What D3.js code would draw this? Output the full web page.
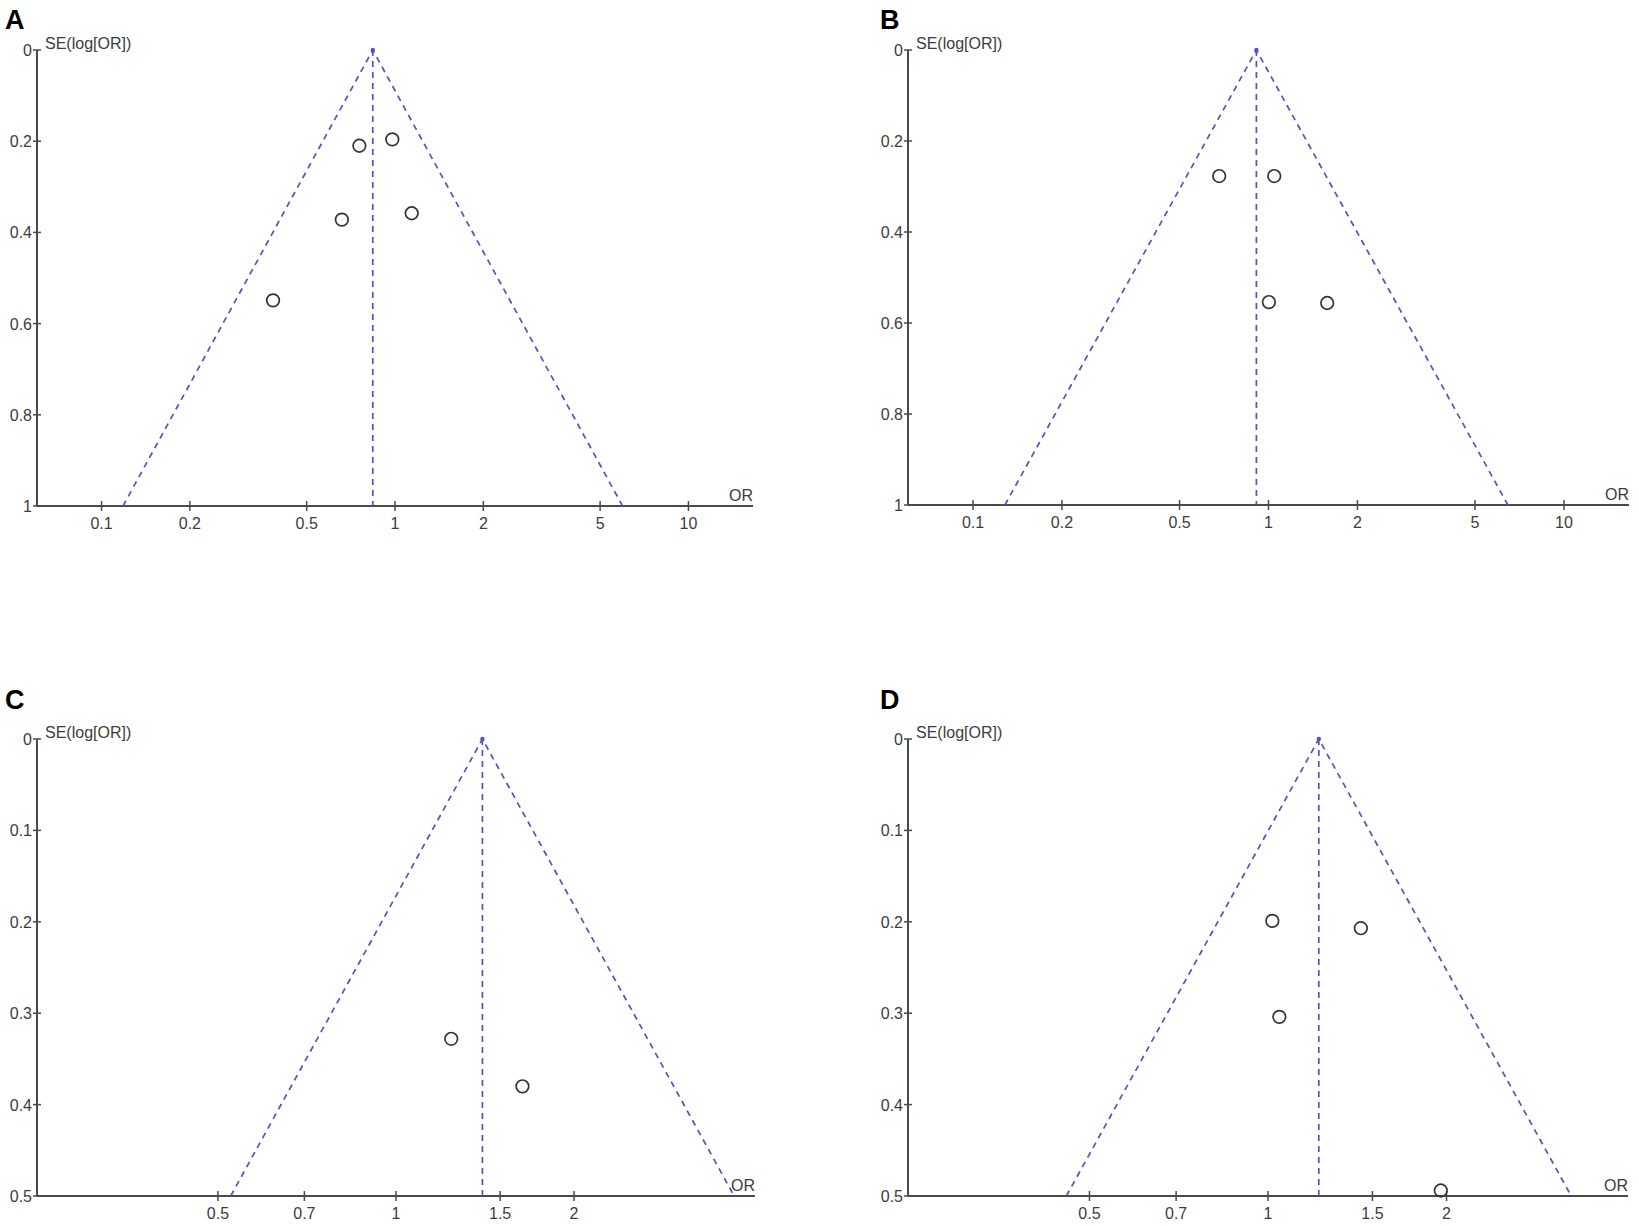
<!DOCTYPE html>
<html>
<head>
<meta charset="utf-8">
<script src="https://cdn.jsdelivr.net/npm/d3@7"></script>
<style>
  body { margin: 0; background: #fff; }
  text { font-family: "Liberation Sans", Arial, sans-serif; }
</style>
</head>
<body>
<div id="chart"></div>
<script>
// panel data
const panelNames = ["A", "B", "C", "D"];
const pooledOR = [0.84, 0.91, 1.40, 1.218];
const seMax = [1, 1, 0.5, 0.5];

const studyOR = [
  [0.756, 0.979, 0.659, 1.14, 0.384],
  [0.681, 1.046, 1.003, 1.58],
  [1.24, 1.636],
  [1.017, 1.434, 1.045, 1.956]
];
const studySE = [
  [0.210, 0.196, 0.372, 0.358, 0.549],
  [0.277, 0.277, 0.554, 0.556],
  [0.328, 0.380],
  [0.199, 0.207, 0.304, 0.494]
];

const xTicksWide = [0.1, 0.2, 0.5, 1, 2, 5, 10];
const xTicksNarrow = [0.5, 0.7, 1, 1.5, 2];
const yTicksWide = [0, 0.2, 0.4, 0.6, 0.8, 1];
const yTicksNarrow = [0, 0.1, 0.2, 0.3, 0.4, 0.5];

const W = 1639, H = 1226;

// layout of the four panels
const boxes = [
  {x0: 37,  x1: 753,  y0: 50,  y1: 506, half: 1.22,  lx: 5,   ly: 29},
  {x0: 908, x1: 1629, y0: 50,  y1: 505, half: 1.22,  lx: 880, ly: 29},
  {x0: 37,  x1: 755,  y0: 739, y1: 1196, half: 0.607, lx: 5,   ly: 709},
  {x0: 908, x1: 1628, y0: 739, y1: 1196, half: 0.607, lx: 880, ly: 709}
];

const svg = d3.select("#chart").append("svg")
  .attr("width", W).attr("height", H);

svg.append("rect").attr("width", W).attr("height", H).attr("fill", "#fff");

const axisCol = "#4a4a4a";
const textCol = "#3c3c3c";
const funnelCol = "#5252c2";

panelNames.forEach((name, i) => {
  const b = boxes[i];
  const g = svg.append("g");

  const x = d3.scaleLog()
    .domain([Math.pow(10, -b.half), Math.pow(10, b.half)])
    .range([b.x0, b.x1]);
  const y = d3.scaleLinear().domain([0, seMax[i]]).range([b.y0, b.y1]);

  const xTicks = i < 2 ? xTicksWide : xTicksNarrow;
  const yTicks = i < 2 ? yTicksWide : yTicksNarrow;

  // panel letter
  g.append("text")
    .attr("x", b.lx).attr("y", b.ly)
    .attr("font-size", 27).attr("font-weight", "bold")
    .attr("fill", "#000")
    .text(name);

  // y axis
  g.append("line")
    .attr("x1", b.x0).attr("x2", b.x0)
    .attr("y1", y(0)).attr("y2", y(seMax[i]))
    .attr("stroke", axisCol).attr("stroke-width", 2);

  g.selectAll(".ytick").data(yTicks).enter()
    .append("line")
    .attr("x1", b.x0 - 4).attr("x2", b.x0 + 4)
    .attr("y1", d => y(d)).attr("y2", d => y(d))
    .attr("stroke", axisCol).attr("stroke-width", 1.5);

  g.selectAll(".ylab").data(yTicks).enter()
    .append("text")
    .attr("x", b.x0 - 5).attr("y", d => y(d) + 6)
    .attr("text-anchor", "end")
    .attr("font-size", 16).attr("fill", textCol)
    .text(d => d3.format("~g")(d));

  g.append("text")
    .attr("x", b.x0 + 8).attr("y", b.y0 - 1)
    .attr("font-size", 16).attr("fill", textCol)
    .text("SE(log[OR])");

  // x axis
  g.append("line")
    .attr("x1", b.x0).attr("x2", b.x1)
    .attr("y1", b.y1).attr("y2", b.y1)
    .attr("stroke", axisCol).attr("stroke-width", 2);

  g.selectAll(".xtick").data(xTicks).enter()
    .append("line")
    .attr("x1", d => x(d)).attr("x2", d => x(d))
    .attr("y1", b.y1 - 5).attr("y2", b.y1 + 5)
    .attr("stroke", axisCol).attr("stroke-width", 1.5);

  g.selectAll(".xlab").data(xTicks).enter()
    .append("text")
    .attr("x", d => x(d)).attr("y", b.y1 + 23)
    .attr("text-anchor", "middle")
    .attr("font-size", 16).attr("fill", textCol)
    .text(d => d3.format("~g")(d));

  g.append("text")
    .attr("x", b.x1).attr("y", b.y1 - 5)
    .attr("text-anchor", "end")
    .attr("font-size", 16).attr("fill", textCol)
    .text("OR");

  // funnel
  const p = pooledOR[i];
  const k = Math.exp(1.96 * seMax[i]);
  const funnel = [[p / k, seMax[i]], [p, 0], [p * k, seMax[i]]];

  g.append("path")
    .attr("d", d3.line().x(d => x(d[0])).y(d => y(d[1]))(funnel))
    .attr("fill", "none")
    .attr("stroke", funnelCol).attr("stroke-width", 1.7)
    .attr("stroke-dasharray", "6,5");

  g.append("line")
    .attr("x1", x(p)).attr("x2", x(p))
    .attr("y1", y(0)).attr("y2", y(seMax[i]))
    .attr("stroke", funnelCol).attr("stroke-width", 1.7)
    .attr("stroke-dasharray", "6,5");

  g.append("circle")
    .attr("cx", x(p)).attr("cy", y(0)).attr("r", 2.2)
    .attr("fill", funnelCol);

  // studies
  const pts = studyOR[i].map((v, j) => ({or: v, se: studySE[i][j]}));
  g.selectAll(".study").data(pts).enter()
    .append("circle")
    .attr("cx", d => x(d.or)).attr("cy", d => y(d.se))
    .attr("r", 6.3)
    .attr("fill", "none")
    .attr("stroke", "#333").attr("stroke-width", 1.7);
});
</script>
</body>
</html>
